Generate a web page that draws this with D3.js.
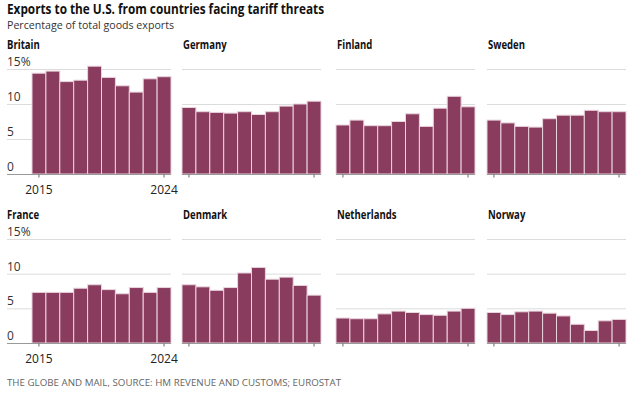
<!DOCTYPE html>
<html>
<head>
<meta charset="utf-8">
<script src="https://cdn.jsdelivr.net/npm/d3@7"></script>
<style>
  body { margin: 0; background: #fff; }
  svg { display: block; font-family: "Open Sans", "Noto Sans", sans-serif; }
</style>
</head>
<body>
<div id="chart"></div>
<script>
var YEARS = ["2015", "2016", "2017", "2018", "2019", "2020", "2021", "2022", "2023", "2024"];
var COUNTRIES = ["Britain", "Germany", "Finland", "Sweden", "France", "Denmark", "Netherlands", "Norway"];

// share of goods exports going to the U.S., in percent
var britain     = [14.4, 14.7, 13.2, 13.4, 15.4, 13.8, 12.6, 11.7, 13.6, 13.9];
var germany     = [9.5, 8.9, 8.8, 8.7, 8.9, 8.5, 8.9, 9.7, 10.0, 10.4];
var finland     = [7.0, 7.7, 6.9, 6.9, 7.5, 8.6, 6.8, 9.4, 11.1, 9.6];
var sweden      = [7.7, 7.3, 6.8, 6.7, 7.9, 8.4, 8.4, 9.1, 8.9, 8.9];
var france      = [7.3, 7.3, 7.3, 7.9, 8.4, 7.7, 7.1, 8.0, 7.3, 8.0];
var denmark     = [8.4, 8.1, 7.6, 8.0, 10.1, 10.9, 9.2, 9.5, 8.3, 6.9];
var netherlands = [3.6, 3.5, 3.5, 4.2, 4.6, 4.4, 4.1, 4.0, 4.6, 5.0];
var norway      = [4.4, 4.1, 4.5, 4.6, 4.3, 3.9, 2.7, 1.8, 3.2, 3.4];

var SERIES = [britain, germany, finland, sweden, france, denmark, netherlands, norway];
var Y_TICKS = [0, 5, 10, 15];
var X_TICKS = ["2015", "2024"];

var W = 640, H = 397;
var COL_X = [32, 182, 336, 487];   // left edge of each column's bars
var PLOT_W = 139;
var ROW_BASE = [174, 343];         // y of the zero line
var ROW_TOP = [69, 239];           // y of the 15% line
var BAR = "#8a3c5f";

var svg = d3.select("#chart").append("svg")
    .attr("width", W)
    .attr("height", H);

// the original uses a condensed face, so squeeze the text to its width
svg.append("text")
    .attr("x", 7).attr("y", 14)
    .attr("textLength", 317).attr("lengthAdjust", "spacingAndGlyphs")
    .style("font-size", "14px").style("font-weight", 700).style("fill", "#111")
    .text("Exports to the U.S. from countries facing tariff threats");

svg.append("text")
    .attr("x", 7).attr("y", 28.5)
    .attr("textLength", 167).attr("lengthAdjust", "spacingAndGlyphs")
    .style("font-size", "11.5px").style("fill", "#333")
    .text("Percentage of total goods exports");

COUNTRIES.forEach(function(name, i) {
  var col = i % 4, row = Math.floor(i / 4);
  var x0 = COL_X[col];
  var first = col === 0;
  var lineLeft = first ? 7 : x0;

  var x = d3.scaleBand().domain(YEARS).range([x0, x0 + PLOT_W]).padding(0);
  var y = d3.scaleLinear().domain([0, 15]).range([ROW_BASE[row], ROW_TOP[row]]);

  var g = svg.append("g");

  g.append("text")
      .attr("transform", "translate(" + (first ? 7 : x0 + 1) + "," + (ROW_TOP[row] - 20.5) + ") scale(0.83,1)")
      .style("font-size", "11.5px").style("font-weight", 700).style("fill", "#111")
      .text(name);

  // gridlines
  g.selectAll(".grid").data(Y_TICKS.filter(function(d) { return d > 0; }))
    .enter().append("line")
      .attr("x1", lineLeft).attr("x2", x0 + PLOT_W)
      .attr("y1", function(d) { return y(d) + 0.5; })
      .attr("y2", function(d) { return y(d) + 0.5; })
      .style("stroke", "#dcdcdc").style("stroke-width", 1);

  if (first) {
    g.selectAll(".ylab").data(Y_TICKS)
      .enter().append("text")
        .attr("x", 7).attr("y", function(d) { return y(d) - 3; })
        .style("font-size", "12px").style("fill", "#333")
        .text(function(d) { return d === 15 ? "15%" : d; });
  }

  g.selectAll(".bar").data(SERIES[i])
    .enter().append("rect")
      .attr("x", function(d, j) { return x(YEARS[j]); })
      .attr("width", x.bandwidth())
      .attr("y", function(d) { return y(d); })
      .attr("height", function(d) { return y(0) - y(d); })
      .style("fill", BAR)
      .style("stroke", "#e9d3dd").style("stroke-width", 1);

  // baseline
  g.append("line")
      .attr("x1", lineLeft).attr("x2", x0 + PLOT_W)
      .attr("y1", y(0) + 0.5).attr("y2", y(0) + 0.5)
      .style("stroke", "#999").style("stroke-width", 1);

  var xAxis = d3.axisBottom(x).tickValues(X_TICKS).tickSize(3).tickSizeOuter(0)
      .tickFormat(first ? null : "");
  var ax = g.append("g")
      .attr("transform", "translate(0," + (y(0) + 0.5) + ")")
      .call(xAxis);
  ax.select(".domain").remove();
  ax.selectAll("line").style("stroke", "#666");
  ax.selectAll("text")
      .attr("dy", "0.71em").attr("y", 11)
      .style("font-size", "12px").style("fill", "#222")
      .style("font-family", "\"Open Sans\", sans-serif");
});

svg.append("text")
    .attr("x", 7).attr("y", 386)
    .attr("textLength", 334).attr("lengthAdjust", "spacingAndGlyphs")
    .style("font-size", "9px").style("fill", "#666")
    .text("THE GLOBE AND MAIL, SOURCE: HM REVENUE AND CUSTOMS; EUROSTAT");
</script>
</body>
</html>
